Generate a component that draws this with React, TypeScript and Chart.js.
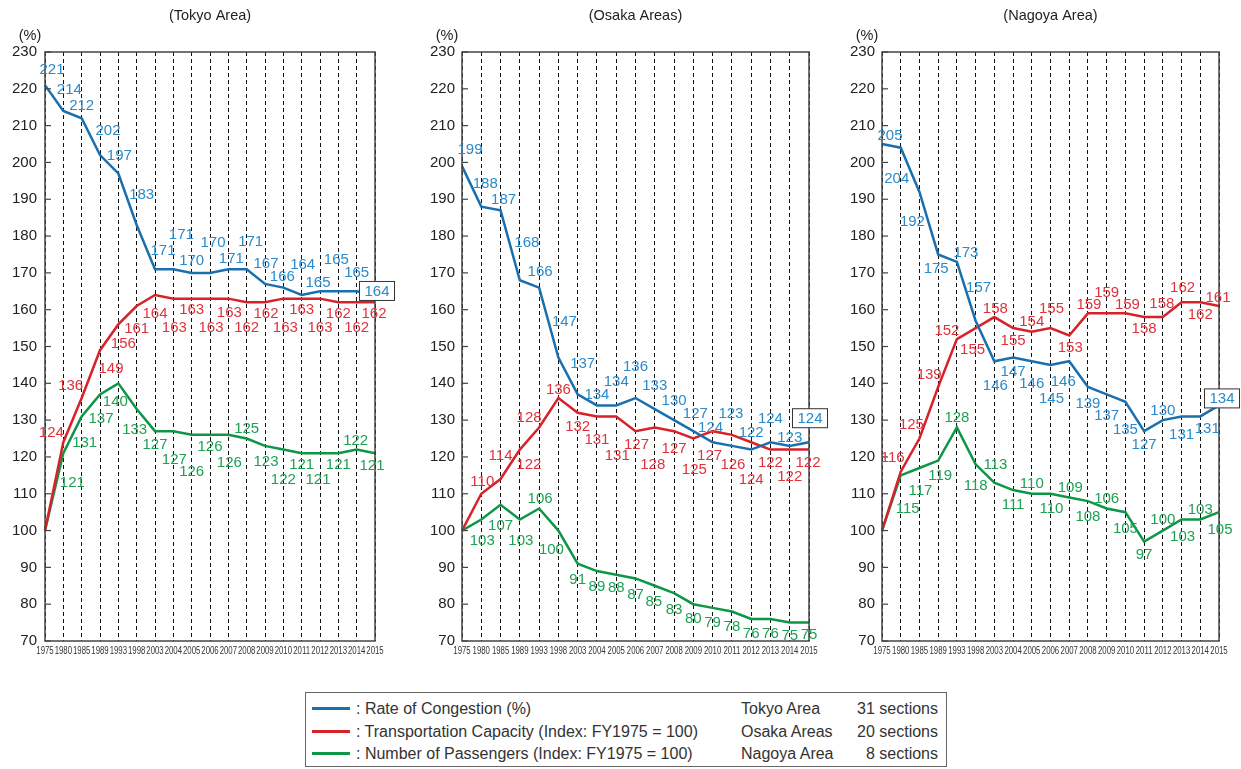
import React, { useEffect, useRef } from 'react';
import { Chart, registerables } from 'chart.js';

Chart.register(...registerables);

// ---------- data ----------
const years = ['1975', '1980', '1985', '1989', '1993', '1998', '2003', '2004', '2005', '2006', '2007', '2008', '2009', '2010', '2011', '2012', '2013', '2014', '2015'];

const tokyoCongestion = [221, 214, 212, 202, 197, 183, 171, 171, 170, 170, 171, 171, 167, 166, 164, 165, 165, 165, 164];
const tokyoCapacity = [100, 124, 136, 149, 156, 161, 164, 163, 163, 163, 163, 162, 162, 163, 163, 163, 162, 162, 162];
const tokyoPassengers = [100, 121, 131, 137, 140, 133, 127, 127, 126, 126, 126, 125, 123, 122, 121, 121, 121, 122, 121];

const osakaCongestion = [199, 188, 187, 168, 166, 147, 137, 134, 134, 136, 133, 130, 127, 124, 123, 122, 124, 123, 124];
const osakaCapacity = [100, 110, 114, 122, 128, 136, 132, 131, 131, 127, 128, 127, 125, 127, 126, 124, 122, 122, 122];
const osakaPassengers = [100, 103, 107, 103, 106, 100, 91, 89, 88, 87, 85, 83, 80, 79, 78, 76, 76, 75, 75];

const nagoyaCongestion = [205, 204, 192, 175, 173, 157, 146, 147, 146, 145, 146, 139, 137, 135, 127, 130, 131, 131, 134];
const nagoyaCapacity = [100, 116, 125, 139, 152, 155, 158, 155, 154, 155, 153, 159, 159, 159, 158, 158, 162, 162, 161];
const nagoyaPassengers = [100, 115, 117, 119, 128, 118, 113, 111, 110, 110, 109, 108, 106, 105, 97, 100, 103, 103, 105];

const panelTitles = ['(Tokyo Area)', '(Osaka Areas)', '(Nagoya Area)'];
const unitLabel = '(%)';
const yMin = 70;
const yMax = 230;
const yStep = 10;

const legendLabels = [': Rate of Congestion (%)', ': Transportation Capacity (Index: FY1975 = 100)', ': Number of Passengers (Index: FY1975 = 100)'];
const areaNames = ['Tokyo Area', 'Osaka Areas', 'Nagoya Area'];
const sectionCounts = ['31 sections', '20 sections', '8 sections'];

// ---------- label placement (pixel offsets from each point; null = no label) ----------
type Off = [number, number] | null;

const tokyoCongestionLbl: Off[] = [[7, -16], [6, -22], [0, -13], [8, -25], [1, -18], [5, -31], [8, -19], [8, -35], [0, -13], [3, -31], [3, -11], [4, -28], [1, -21], [-1, -11], [1, -31], [-2, -9], [-2, -32], [0, -19], [2, -4]];
const tokyoCapacityLbl: Off[] = [null, [-12, -10], [-11, -13], [11, 18], [5, 19], [0, 22], [0, 18], [1, 29], [0, 11], [1, 29], [1, 14], [0, 25], [1, 11], [2, 29], [0, 11], [0, 29], [0, 11], [0, 25], [-1, 11]];
const tokyoPassengersLbl: Off[] = [null, [9, 29], [3, 26], [1, 24], [-3, 18], [-2, 20], [0, 13], [1, 28], [0, 37], [0, 12], [1, 28], [0, -10], [1, 15], [0, 30], [0, 11], [-2, 26], [0, 11], [-1, -9], [-3, 12]];

const osakaCongestionLbl: Off[] = [[8, -17], [4, -23], [3, -11], [7, -38], [1, -16], [6, -36], [5, -31], [0, -11], [0, -24], [0, -32], [0, -24], [0, -20], [2, -18], [-2, -15], [-1, -33], [0, -17], [0, -24], [0, -9], [1, -24]];
const osakaCapacityLbl: Off[] = [null, [1, -12], [0, -24], [9, 15], [-10, -10], [0, -9], [0, 14], [0, 23], [1, 39], [1, 13], [-2, 37], [0, 17], [1, 31], [-3, 24], [1, 30], [0, 37], [0, 13], [0, 27], [-1, 13]];
const osakaPassengersLbl: Off[] = [null, [1, 21], [0, 21], [1, 21], [1, -10], [-7, 19], [0, 16], [0, 15], [0, 13], [0, 16], [-1, 16], [0, 16], [0, 14], [0, 14], [0, 15], [0, 14], [0, 14], [0, 13], [0, 12]];

const nagoyaCongestionLbl: Off[] = [[8, -9], [-4, 31], [-7, 29], [-2, 14], [9, -9], [3, -33], [1, 24], [0, 14], [0, 22], [1, 33], [-6, 20], [0, 16], [0, 21], [0, 28], [0, 13], [0, -10], [0, 18], [7, 12], [3, -7]];
const nagoyaCapacityLbl: Off[] = [null, [-8, -14], [-8, -14], [-9, -13], [-10, -9], [-3, 21], [1, -9], [0, 12], [0, -10], [1, -20], [1, 12], [1, -9], [0, -21], [2, -9], [0, 11], [-1, -14], [1, -15], [0, 12], [-1, -9]];
const nagoyaPassengersLbl: Off[] = [null, [7, 33], [1, 22], [2, 15], [0, -10], [0, 21], [1, -18], [0, 14], [0, -10], [1, 15], [1, -10], [0, 15], [0, -10], [0, 16], [0, 13], [0, -11], [1, 17], [0, -10], [1, 17]];

// ---------- styles ----------
const FONT = "'Liberation Sans', Arial, Helvetica, sans-serif";

const seriesStyle = [
  { line: '#1a6fae', text: '#2a8acb' },
  { line: '#d92129', text: '#e0323a' },
  { line: '#0e9647', text: '#1ca252' },
];

interface SeriesSpec { data: number[]; lbl: Off[]; }
interface PanelSpec { title: string; left: number; width: number; yW: number; yPad: number; rightPad: number; series: SeriesSpec[]; }

const CANVAS_H = 670;

const panels: PanelSpec[] = [
  {
    title: panelTitles[0], left: 0, width: 410, yW: 45, yPad: 8, rightPad: 35,
    series: [
      { data: tokyoCongestion, lbl: tokyoCongestionLbl },
      { data: tokyoCapacity, lbl: tokyoCapacityLbl },
      { data: tokyoPassengers, lbl: tokyoPassengersLbl },
    ],
  },
  {
    title: panelTitles[1], left: 410, width: 420, yW: 52, yPad: 7, rightPad: 21,
    series: [
      { data: osakaCongestion, lbl: osakaCongestionLbl },
      { data: osakaCapacity, lbl: osakaCapacityLbl },
      { data: osakaPassengers, lbl: osakaPassengersLbl },
    ],
  },
  {
    title: panelTitles[2], left: 830, width: 411, yW: 52, yPad: 7, rightPad: 22,
    series: [
      { data: nagoyaCongestion, lbl: nagoyaCongestionLbl },
      { data: nagoyaCapacity, lbl: nagoyaCapacityLbl },
      { data: nagoyaPassengers, lbl: nagoyaPassengersLbl },
    ],
  },
];

function Panel({ spec }: { spec: PanelSpec }) {
  const ref = useRef<HTMLCanvasElement>(null);

  useEffect(() => {
    const canvas = ref.current;
    if (!canvas) return;

    const decor = {
      id: 'decor',
      afterDraw(chart: any) {
        const ctx = chart.ctx as CanvasRenderingContext2D;
        const a = chart.chartArea;
        const ys = chart.scales.y;
        const xs = chart.scales.x;
        ctx.save();
        ctx.setLineDash([]);
        // frame
        ctx.strokeStyle = '#444';
        ctx.lineWidth = 1.5;
        ctx.strokeRect(a.left, a.top, a.right - a.left, a.bottom - a.top);
        // inward y ticks
        ctx.lineWidth = 1.2;
        ys.ticks.forEach((t: any) => {
          const py = ys.getPixelForValue(t.value);
          ctx.beginPath();
          ctx.moveTo(a.left, py);
          ctx.lineTo(a.left + 6, py);
          ctx.stroke();
        });
        // condensed x tick labels
        ctx.fillStyle = '#333';
        ctx.font = `10px ${FONT}`;
        ctx.textAlign = 'center';
        ctx.textBaseline = 'middle';
        const sx = 0.78;
        chart.data.labels.forEach((lab: string, i: number) => {
          const px = xs.getPixelForValue(i);
          ctx.save();
          ctx.translate(px, a.bottom + 10.5);
          ctx.scale(sx, 1);
          ctx.fillText(lab, 0, 0);
          ctx.restore();
        });
        // title and unit
        ctx.fillStyle = '#222';
        ctx.font = `14.5px ${FONT}`;
        ctx.fillText(spec.title, (a.left + a.right) / 2, 16);
        ctx.fillText(unitLabel, a.left - 15, 36);
        // data labels
        ctx.font = `15px ${FONT}`;
        spec.series.forEach((s, di) => {
          const meta = chart.getDatasetMeta(di);
          s.lbl.forEach((o, i) => {
            if (!o) return;
            const el = meta.data[i];
            if (!el) return;
            const x = el.x + o[0];
            const y = el.y + o[1];
            const txt = String(s.data[i]);
            if (di === 0 && i === s.data.length - 1) {
              const w = ctx.measureText(txt).width + 10;
              const h = 19;
              ctx.fillStyle = '#fff';
              ctx.fillRect(x - w / 2, y - h / 2, w, h);
              ctx.strokeStyle = '#333';
              ctx.lineWidth = 1;
              ctx.strokeRect(x - w / 2, y - h / 2, w, h);
            }
            ctx.fillStyle = seriesStyle[di].text;
            ctx.fillText(txt, x, y + 0.5);
          });
        });
        ctx.restore();
      },
    };

    const chart = new Chart(canvas, {
      type: 'line',
      data: {
        labels: years,
        datasets: spec.series.map((s, di) => ({
          data: s.data,
          borderColor: seriesStyle[di].line,
          backgroundColor: seriesStyle[di].line,
          borderWidth: 2.5,
          pointRadius: 0,
          tension: 0,
          fill: false,
          clip: false as any,
        })),
      },
      options: {
        responsive: false,
        animation: false,
        events: [],
        layout: { padding: { left: 0, right: spec.rightPad, top: 52, bottom: 9 } },
        plugins: {
          legend: { display: false },
          title: { display: false },
          tooltip: { enabled: false },
        },
        scales: {
          x: {
            type: 'category',
            offset: false,
            grid: { color: '#111', lineWidth: 1, drawTicks: false, drawOnChartArea: true },
            border: { display: false, dash: [4, 3] },
            ticks: { display: false, autoSkip: false },
            afterFit: (sc: any) => { sc.height = 20; },
          },
          y: {
            min: yMin,
            max: yMax,
            ticks: {
              stepSize: yStep,
              padding: spec.yPad,
              color: '#222',
              font: { family: FONT, size: 15 },
            },
            grid: { display: false, drawTicks: false },
            border: { display: false },
            afterFit: (sc: any) => { sc.width = spec.yW; },
          },
        },
      },
      plugins: [decor],
    } as any);

    return () => chart.destroy();
  }, [spec]);

  return (
    <canvas
      ref={ref}
      width={spec.width}
      height={CANVAS_H}
      style={{ position: 'absolute', left: spec.left, top: 0, width: spec.width, height: CANVAS_H }}
    />
  );
}

function Legend() {
  const rowCenters = [17, 40, 62];
  return (
    <div
      style={{
        position: 'absolute',
        left: 305,
        top: 692,
        width: 642,
        height: 75,
        boxSizing: 'border-box',
        border: '1.5px solid #666',
        background: '#fff',
        fontFamily: FONT,
        fontSize: 16,
        color: '#333',
      }}
    >
      {legendLabels.map((lab, i) => (
        <React.Fragment key={i}>
          <div style={{ position: 'absolute', left: 6, top: rowCenters[i] - 1.5 - 1.5, width: 38, height: 3, background: seriesStyle[i].line }} />
          <div style={{ position: 'absolute', left: 50, top: rowCenters[i] - 10 - 1.5, height: 20, lineHeight: '20px', whiteSpace: 'nowrap' }}>{lab}</div>
          <div style={{ position: 'absolute', left: 435, top: rowCenters[i] - 10 - 1.5, height: 20, lineHeight: '20px', whiteSpace: 'nowrap' }}>{areaNames[i]}</div>
          <div style={{ position: 'absolute', right: 8, top: rowCenters[i] - 10 - 1.5, height: 20, lineHeight: '20px', whiteSpace: 'nowrap', textAlign: 'right' }}>{sectionCounts[i]}</div>
        </React.Fragment>
      ))}
    </div>
  );
}

export default function App() {
  return (
    <div style={{ position: 'absolute', left: 0, top: 0, width: 1241, height: 769, background: '#fff', overflow: 'hidden' }}>
      {panels.map((p, i) => (
        <Panel key={i} spec={p} />
      ))}
      <Legend />
    </div>
  );
}
